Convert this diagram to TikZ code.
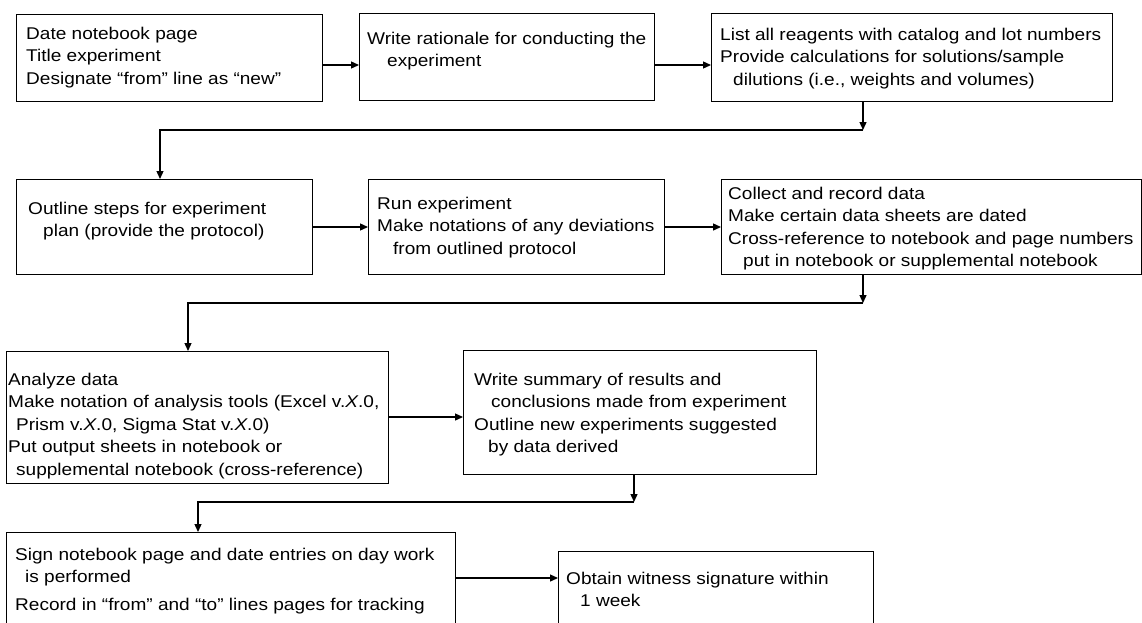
\documentclass[tikz,border=0pt]{standalone}
\usepackage{fontspec}
\setmainfont{Liberation Sans}[FakeStretch=1.12]
\usetikzlibrary{arrows.meta,calc}
\newcommand{\fl}{\rule{0pt}{16pt}}
\begin{document}
\begin{tikzpicture}[x=1pt,y=-1pt,
  box/.style={draw, line width=1.3pt, inner sep=0, anchor=north west},
  txt/.style={anchor=north west, inner sep=0, align=left, font=\fontsize{17}{22.5}\selectfont},
  arr/.style={line width=1.3pt, -{Triangle[length=8pt,width=7pt]}},
  ln/.style={line width=1.3pt}]
\useasboundingbox (0,0) rectangle (1142,622);
\clip (0,0) rectangle (1142,622);
% boxes
\node[box, minimum width=306pt, minimum height=87pt] (b1) at (16,14) {};
\node[box, minimum width=295pt, minimum height=87pt] (b2) at (359,13) {};
\node[box, minimum width=401pt, minimum height=88pt] (b3) at (711,13) {};
\node[box, minimum width=296pt, minimum height=95pt] (b4) at (16,179) {};
\node[box, minimum width=296pt, minimum height=95pt] (b5) at (368,179) {};
\node[box, minimum width=420pt, minimum height=95pt] (b6) at (721,179) {};
\node[box, minimum width=382pt, minimum height=132pt] (b7) at (6,351) {};
\node[box, minimum width=353pt, minimum height=124pt] (b8) at (463,350) {};
\node[box, minimum width=449pt, minimum height=108pt] (b9) at (6,532) {};
\node[box, minimum width=315pt, minimum height=89pt] (b10) at (558,551) {};
% texts
\node[txt] (t1) at (26,23) {\fl Date notebook page\\Title experiment\\Designate “from” line as “new”};
\node[txt] (t2) at (367,28) {\fl Write rationale for conducting the\\\hspace*{20pt}experiment};
\node[txt] (t3) at (720,24) {\fl List all reagents with catalog and lot numbers\\Provide calculations for solutions/sample\\\hspace*{13pt}dilutions (i.e., weights and volumes)};
\node[txt] (t4) at (28,198) {\fl Outline steps for experiment\\\hspace*{15pt}plan (provide the protocol)};
\node[txt] (t5) at (377,193) {\fl Run experiment\\Make notations of any deviations\\\hspace*{16pt}from outlined protocol};
\node[txt] (t6) at (728,183) {\fl Collect and record data\\Make certain data sheets are dated\\Cross-reference to notebook and page numbers\\\hspace*{15pt}put in notebook or supplemental notebook};
\node[txt] (t7) at (8,369) {\fl Analyze data\\Make notation of analysis tools (Excel v.\textit{X}.0,\\\hspace*{8pt}Prism v.\textit{X}.0, Sigma Stat v.\textit{X}.0)\\Put output sheets in notebook or\\\hspace*{8pt}supplemental notebook (cross-reference)};
\node[txt] (t8) at (474,369) {\fl Write summary of results and\\\hspace*{17pt}conclusions made from experiment\\Outline new experiments suggested\\\hspace*{14pt}by data derived};
\node[txt] (t9) at (15,544) {\fl Sign notebook page and date entries on day work\\\hspace*{10pt}is performed\\[5pt]Record in “from” and “to” lines pages for tracking};
\node[txt] (t10) at (566,568) {\fl Obtain witness signature within\\\hspace*{14pt}1 week};
% connectors
\draw[arr] (b1.east |- 0,65) -- (b2.west |- 0,65);
\draw[arr] (b2.east |- 0,65) -- (b3.west |- 0,65);
\coordinate (k1) at (863,130); \coordinate (k1b) at (160,130);
\draw[arr] (b3.south -| k1) -- (k1);
\draw[arr] (k1) -- (k1b) -- (b4.north -| k1b);
\draw[arr] (b4.east |- 0,227) -- (b5.west |- 0,227);
\draw[arr] (b5.east |- 0,227) -- (b6.west |- 0,227);
\coordinate (k2) at (863,303); \coordinate (k2b) at (188,303);
\draw[arr] (b6.south -| k2) -- (k2);
\draw[arr] (k2) -- (k2b) -- (b7.north -| k2b);
\draw[arr] (b7.east |- 0,417) -- (b8.west |- 0,417);
\coordinate (k3) at (634,502); \coordinate (k3b) at (198,502);
\draw[arr] (b8.south -| k3) -- (k3);
\draw[arr] (k3) -- (k3b) -- (b9.north -| k3b);
\draw[arr] (b9.east |- 0,578) -- (b10.west |- 0,578);
\end{tikzpicture}
\end{document}
